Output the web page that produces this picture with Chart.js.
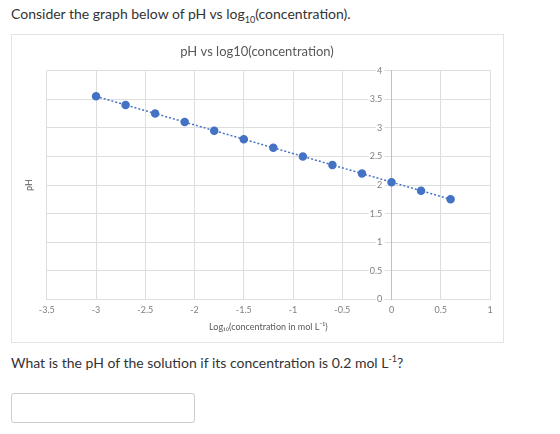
<!DOCTYPE html>
<html>
<head>
<meta charset="utf-8">
<script src="https://cdn.jsdelivr.net/npm/chart.js@4.4.1/dist/chart.umd.min.js"></script>
<style>
    body { margin: 0; background: #fff; font-family: Lato, "Open Sans", sans-serif; color: #333; }
    .question { position: absolute; left: 11px; font-size: 14px; line-height: 18px; }
    .question sub, .question sup { font-size: 9px; line-height: 0; }
    #q1 { top: 5px; }
    #q2 { top: 354px; }
    #chart-box {
        position: absolute; left: 11px; top: 34px;
        width: 491px; height: 307px;
        border: 1px solid #e3e3e3;
    }
    #answer {
        position: absolute; left: 11px; top: 393px;
        width: 182px; height: 28px;
        border: 1px solid #ccc; border-radius: 3px;
    }
</style>
</head>
<body>
<div class="question" id="q1">Consider the graph below of pH vs log<sub>10</sub>(concentration).</div>
<div id="chart-box"><canvas id="ph-chart"></canvas></div>
<div class="question" id="q2">What is the pH of the solution if its concentration is 0.2 mol L<sup>-1</sup>?</div>
<div id="answer"></div>

<script>
// Data
const logConc = [-3, -2.7, -2.4, -2.1, -1.8, -1.5, -1.2, -0.9, -0.6, -0.3, 0, 0.3, 0.6];
const phValues = [3.55, 3.40, 3.25, 3.10, 2.95, 2.80, 2.65, 2.50, 2.35, 2.20, 2.05, 1.90, 1.75];
const xTicks = [-3.5, -3, -2.5, -2, -1.5, -1, -0.5, 0, 0.5, 1];
const yTicks = [0, 0.5, 1, 1.5, 2, 2.5, 3, 3.5, 4];

const blue = '#4472C4';
const gridColor = '#dedede';
const tickColor = '#808080';
const titleColor = '#595959';
const chartFont = 'Lato, "Open Sans", sans-serif';

const points = logConc.map((x, i) => ({ x: x, y: phValues[i] }));

new Chart(document.getElementById('ph-chart'), {
    type: 'scatter',
    data: {
        datasets: [{
            label: 'pH',
            data: points,
            showLine: true,
            borderColor: blue,
            borderWidth: 1.5,
            borderDash: [2, 2],
            backgroundColor: blue,
            pointRadius: 3.5,
            pointHoverRadius: 3.5
        }]
    },
    options: {
        responsive: true,
        maintainAspectRatio: false,
        animation: false,
        layout: {
            padding: { left: 12, right: 13, top: 0, bottom: 10 }
        },
        plugins: {
            legend: { display: false },
            tooltip: { enabled: false },
            title: {
                display: true,
                text: 'pH vs log10(concentration)',
                color: titleColor,
                font: { family: chartFont, size: 13, weight: 'normal' },
                padding: { top: 9, bottom: 11 }
            }
        },
        scales: {
            x: {
                type: 'linear',
                min: -3.5,
                max: 1,
                afterBuildTicks: scale => { scale.ticks = xTicks.map(v => ({ value: v })); },
                grid: { color: gridColor, drawTicks: false },
                border: { color: gridColor },
                ticks: {
                    color: tickColor,
                    font: { family: chartFont, size: 9 },
                    padding: 5,
                    callback: v => String(v)
                },
                title: {
                    display: true,
                    text: 'Log\u2081\u2080(concentration in mol L\u207B\u00B9)',
                    color: titleColor,
                    font: { family: chartFont, size: 9 },
                    padding: { top: 1, bottom: 0 }
                }
            },
            y: {
                type: 'linear',
                position: { x: 0 },
                min: 0,
                max: 4,
                afterBuildTicks: scale => { scale.ticks = yTicks.map(v => ({ value: v })); },
                grid: { color: gridColor, drawTicks: false },
                border: { color: '#c0c0c0' },
                ticks: {
                    color: tickColor,
                    font: { family: chartFont, size: 9 },
                    // labels sit a little left of the axis line
                    callback: v => String(v) + '    ',
                    showLabelBackdrop: true,
                    backdropColor: '#fff',
                    backdropPadding: { left: 1, right: -7, top: 0, bottom: 0 }
                }
            },
            // left-hand axis that only carries the "pH" title
            yTitle: {
                type: 'linear',
                position: 'left',
                min: 0,
                max: 4,
                grid: { display: false },
                border: { display: false },
                ticks: { display: false },
                title: {
                    display: true,
                    text: 'pH',
                    color: titleColor,
                    font: { family: chartFont, size: 9 },
                    padding: { top: 0, bottom: 4 }
                }
            }
        }
    }
});
</script>
</body>
</html>
